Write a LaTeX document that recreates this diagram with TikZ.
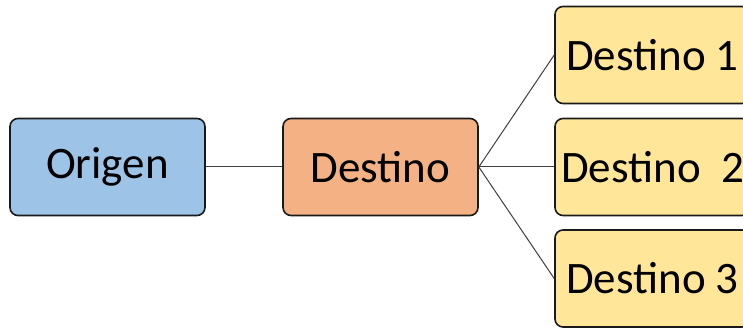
\documentclass[tikz,border=0pt]{standalone}
\usepackage{fontspec}
\setmainfont{Carlito}
\definecolor{cblue}{HTML}{9DC3E6}
\definecolor{corange}{HTML}{F4B183}
\definecolor{cyellow}{HTML}{FFE699}
\definecolor{cedge}{HTML}{1A1A1A}
\definecolor{cline}{HTML}{404040}
\begin{document}
\begin{tikzpicture}[x=1pt,y=-1pt,
  box/.style={draw=cedge, line width=1.6pt, rounded corners=8pt, minimum width=195pt, minimum height=97pt, inner sep=0pt, font=\fontsize{45}{50}\selectfont, anchor=center},
  conn/.style={draw=cline, line width=1pt}]
\useasboundingbox (0,0) rectangle (743,328);
\clip (0,0) rectangle (743,328);
\node[box, fill=cblue] (o) at (107.5,167) {Origen};
\node[box, fill=corange] (d) at (380.5,167) {Destino};
\node[box, fill=cyellow] (d1) at (652.5,55) {Destino 1};
\node[box, fill=cyellow] (d2) at (652.5,167) {Destino\ \ 2};
\node[box, fill=cyellow] (d3) at (652.5,278.5) {Destino 3};
\draw[conn] (o.east) -- (d.west);
\draw[conn] (d.east) -- (d1.west);
\draw[conn] (d.east) -- (d2.west);
\draw[conn] (d.east) -- (d3.west);
\end{tikzpicture}
\end{document}
